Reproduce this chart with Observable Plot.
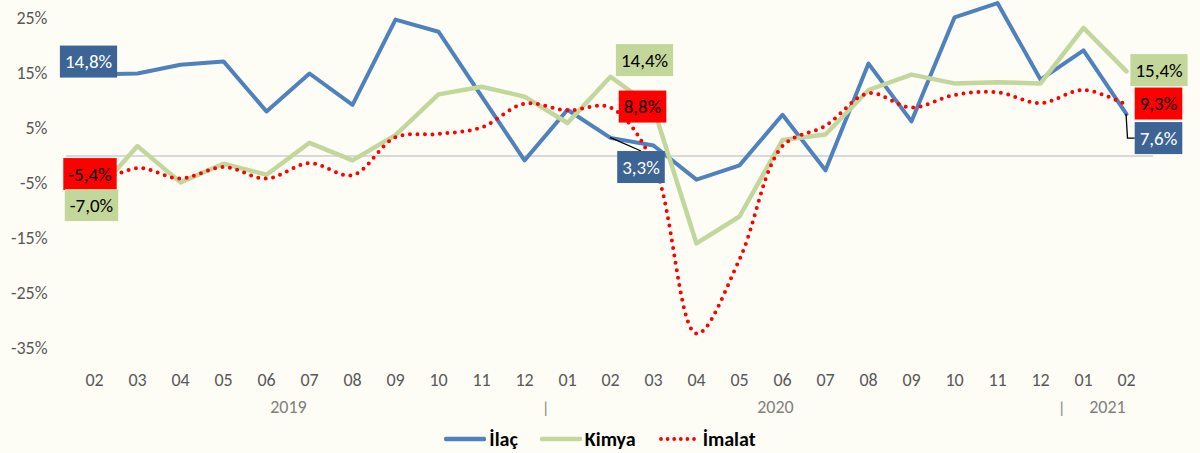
<!DOCTYPE html>
<html><head><meta charset="utf-8">
<script src="https://cdn.jsdelivr.net/npm/d3@7"></script>
<script src="https://cdn.jsdelivr.net/npm/@observablehq/plot@0.6"></script>
<style>
html,body{margin:0;padding:0;background:#fdfdf6;}
#chart{width:1200px;height:453px;position:relative;background:#fdfdf6;font-family:Carlito,Lato,"DejaVu Sans Condensed",sans-serif;}
#legend{display:flex;justify-content:center;align-items:center;height:28px;font-weight:bold;font-size:20px;color:#000;}
.item{display:flex;align-items:center;margin:0 11px;}
.item svg{margin-right:3px;display:block}
</style></head><body><div id="chart"></div>
<script>
// ---- data ----
const months = ["02","03","04","05","06","07","08","09","10","11","12","01","02","03","04","05","06","07","08","09","10","11","12","01","02"];
const years  = ["2019","2019","2019","2019","2019","2019","2019","2019","2019","2019","2019","2020","2020","2020","2020","2020","2020","2020","2020","2020","2020","2020","2020","2021","2021"];
const seriesNames = ["İlaç","Kimya","İmalat"];
const ilac   = [14.8,15.0,16.6,17.2,8.1,15.0,9.3,24.8,22.6,10.9,-0.8,8.4,3.3,1.9,-4.3,-1.7,7.5,-2.6,16.8,6.3,25.2,27.8,13.9,19.2,7.6];
const kimya  = [-7.0,1.8,-4.8,-1.4,-3.4,2.4,-0.8,3.8,11.2,12.6,10.8,6.0,14.4,8.7,-15.9,-11.0,2.9,3.9,12.0,14.8,13.2,13.4,13.2,23.3,15.4];
const imalat = [-5.4,-2.2,-4.1,-2.0,-4.1,-1.3,-3.5,3.4,4.0,5.2,9.5,8.3,8.8,-1.4,-32.3,-18.8,1.8,5.5,11.4,8.8,11.1,11.6,9.6,12.0,9.3];
const yTicks = [-35,-25,-15,-5,5,15,25];
const yearLabels = ["2019","2020","2021"];

// ---- build ----
const keys = months.map((m,i)=>`${years[i]}-${m}`);
const rows = (vals, name) => vals.map((v,i)=>({key:keys[i], month:months[i], series:name, value:v}));
const rIlac = rows(ilac, seriesNames[0]);
const rKimya = rows(kimya, seriesNames[1]);
const rImalat = rows(imalat, seriesNames[2]);

const FONT = 'Carlito,Lato,"DejaVu Sans Condensed",sans-serif';
const C = {ilac:"#4f81bd", kimya:"#c3d69b", imalat:"#ff0000", ilacBox:"#3c6494", kimyaBox:"#c4d79b", imalatBox:"#ff0000"};
const fmt = v => v.toFixed(1).replace(".", ",") + "%";

// label offsets (position styling)
const labelSpecs = [
  {rows:rIlac,   i:0,  dx:-6,   dy:-12.6, box:C.ilacBox,   color:"#fff", cls:"lab-ilac-0"},
  {rows:rImalat, i:0,  dx:-4.5, dy:-11.2, box:C.imalatBox, color:"#000", cls:"lab-imalat-0"},
  {rows:rKimya,  i:0,  dx:-3,   dy:11,    box:C.kimyaBox,  color:"#000", cls:"lab-kimya-0"},
  {rows:rKimya,  i:12, dx:34,   dy:-16.3, box:C.kimyaBox,  color:"#000", cls:"lab-kimya-12"},
  {rows:rImalat, i:12, dx:32,   dy:-0.6,  box:C.imalatBox, color:"#000", cls:"lab-imalat-12"},
  {rows:rIlac,   i:12, dx:30.5, dy:29.6,  box:C.ilacBox,   color:"#fff", cls:"lab-ilac-12", leader:"top"},
  {rows:rKimya,  i:24, dx:32.5, dy:-0.8,  box:C.kimyaBox,  color:"#000", cls:"lab-kimya-24"},
  {rows:rImalat, i:24, dx:32,   dy:-0.9,  box:C.imalatBox, color:"#000", cls:"lab-imalat-24"},
  {rows:rIlac,   i:24, dx:32,   dy:24.3,  box:C.ilacBox,   color:"#fff", cls:"lab-ilac-24", leader:"elbow"}
];

const yearAnchor = [{key:keys[4], dx:22},{key:keys[16], dx:-7},{key:keys[23], dx:24}];

const marks = [
  Plot.ruleY([0], {stroke:"#d9d9d9", strokeWidth:2, insetLeft:-22, insetRight:-22}),
  Plot.axisY({ticks:yTicks, tickSize:0, tickPadding:41, tickFormat:d=>`${d}%`, color:"#595959", fontSize:18, label:null}),
  Plot.axisX({tickSize:0, tickPadding:25, tickFormat:k=>k.slice(5), color:"#595959", fontSize:18, label:null}),
  Plot.line(rIlac, {x:"key", y:"value", stroke:C.ilac, strokeWidth:4}),
  Plot.line(rKimya, {x:"key", y:"value", stroke:C.kimya, strokeWidth:4.5}),
  Plot.line(rImalat, {x:"key", y:"value", stroke:C.imalat, strokeWidth:4, strokeDasharray:"0 7.5", strokeLinecap:"round", curve:"catmull-rom"}),
  ...yearLabels.map((t,j)=>Plot.text([t], {x:()=>yearAnchor[j].key, text:d=>d, frameAnchor:"bottom", dy:64, dx:yearAnchor[j].dx, fill:"#808080", fontSize:18})),
  Plot.text([keys[11], keys[23]], {x:d=>d, text:()=>"|", frameAnchor:"bottom", dy:64, dx:-21.7, fill:"#808080", fontSize:16}),
  ...labelSpecs.map(s=>Plot.text([s.rows[s.i]], {x:"key", y:"value", text:d=>fmt(d.value), dx:s.dx, dy:s.dy, fill:s.color, fontSize:19, className:s.cls}))
];

const plot = Plot.plot({
  width:1200, height:425,
  marginLeft:88, marginRight:69, marginTop:18, marginBottom:77,
  style:{background:"#fdfdf6", fontFamily:FONT, overflow:"visible"},
  x:{type:"point", domain:keys, padding:0},
  y:{domain:[-35,25]},
  marks
});
const chart = document.getElementById("chart");
chart.appendChild(plot);

// scale helpers
function getScale(name){
  const s = plot.scale(name);
  if (s && typeof s.apply === "function") return v=>s.apply(v);
  if (name==="x") { return d3.scalePoint(s.domain, s.range).padding(s.padding ?? 0).align(s.align ?? 0.5); }
  return d3.scaleLinear(s.domain, s.range);
}
const sx = getScale("x"), sy = getScale("y");
const NS = "http://www.w3.org/2000/svg";

// boxes behind labels + leader lines
labelSpecs.forEach(s=>{
  const g = plot.querySelector("g."+s.cls) || plot.querySelector("."+s.cls);
  if (!g) return;
  const t = g.querySelector("text");
  const bb = t.getBBox();
  const w = bb.width + 10, h = 32;
  const cx = bb.x + bb.width/2, cy = bb.y + bb.height/2;
  const rect = document.createElementNS(NS,"rect");
  rect.setAttribute("x", cx - w/2); rect.setAttribute("y", cy - h/2);
  rect.setAttribute("width", w); rect.setAttribute("height", h);
  rect.setAttribute("fill", s.box);
  if (t.getAttribute("transform")) rect.setAttribute("transform", t.getAttribute("transform"));
  g.insertBefore(rect, t);
  if (s.leader) {
    const d = s.rows[s.i];
    const px = sx(d.key), py = sy(d.value);
    const r = rect.getBoundingClientRect(), sr = plot.getBoundingClientRect();
    const L = r.left - sr.left, T = r.top - sr.top, W = r.width, H = r.height;
    const p = document.createElementNS(NS,"path");
    let path;
    if (s.leader==="top") path = `M${px},${py}L${L + W/2},${T}`;
    else path = `M${px},${py}L${px+1.5},${T+H/2}L${L},${T+H/2}`;
    p.setAttribute("d", path); p.setAttribute("fill","none");
    p.setAttribute("stroke","#000"); p.setAttribute("stroke-width","1.3");
    plot.insertBefore(p, g);
  }
});

// legend
const legend = document.createElement("div");
legend.id = "legend";
const swatch = (color, dotted) => `<svg width="42" height="8"><line x1="${dotted?3:2}" y1="4" x2="${dotted?39:40}" y2="4" stroke="${color}" stroke-width="${dotted?3.8:4.5}" stroke-linecap="round" ${dotted?'stroke-dasharray="0 6.6"':''}/></svg>`;
legend.innerHTML = [
  {n:seriesNames[0], c:C.ilac, d:false},
  {n:seriesNames[1], c:C.kimya, d:false},
  {n:seriesNames[2], c:C.imalat, d:true}
].map(o=>`<div class="item">${swatch(o.c,o.d)}<span>${o.n}</span></div>`).join("");
chart.appendChild(legend);
</script></body></html>
